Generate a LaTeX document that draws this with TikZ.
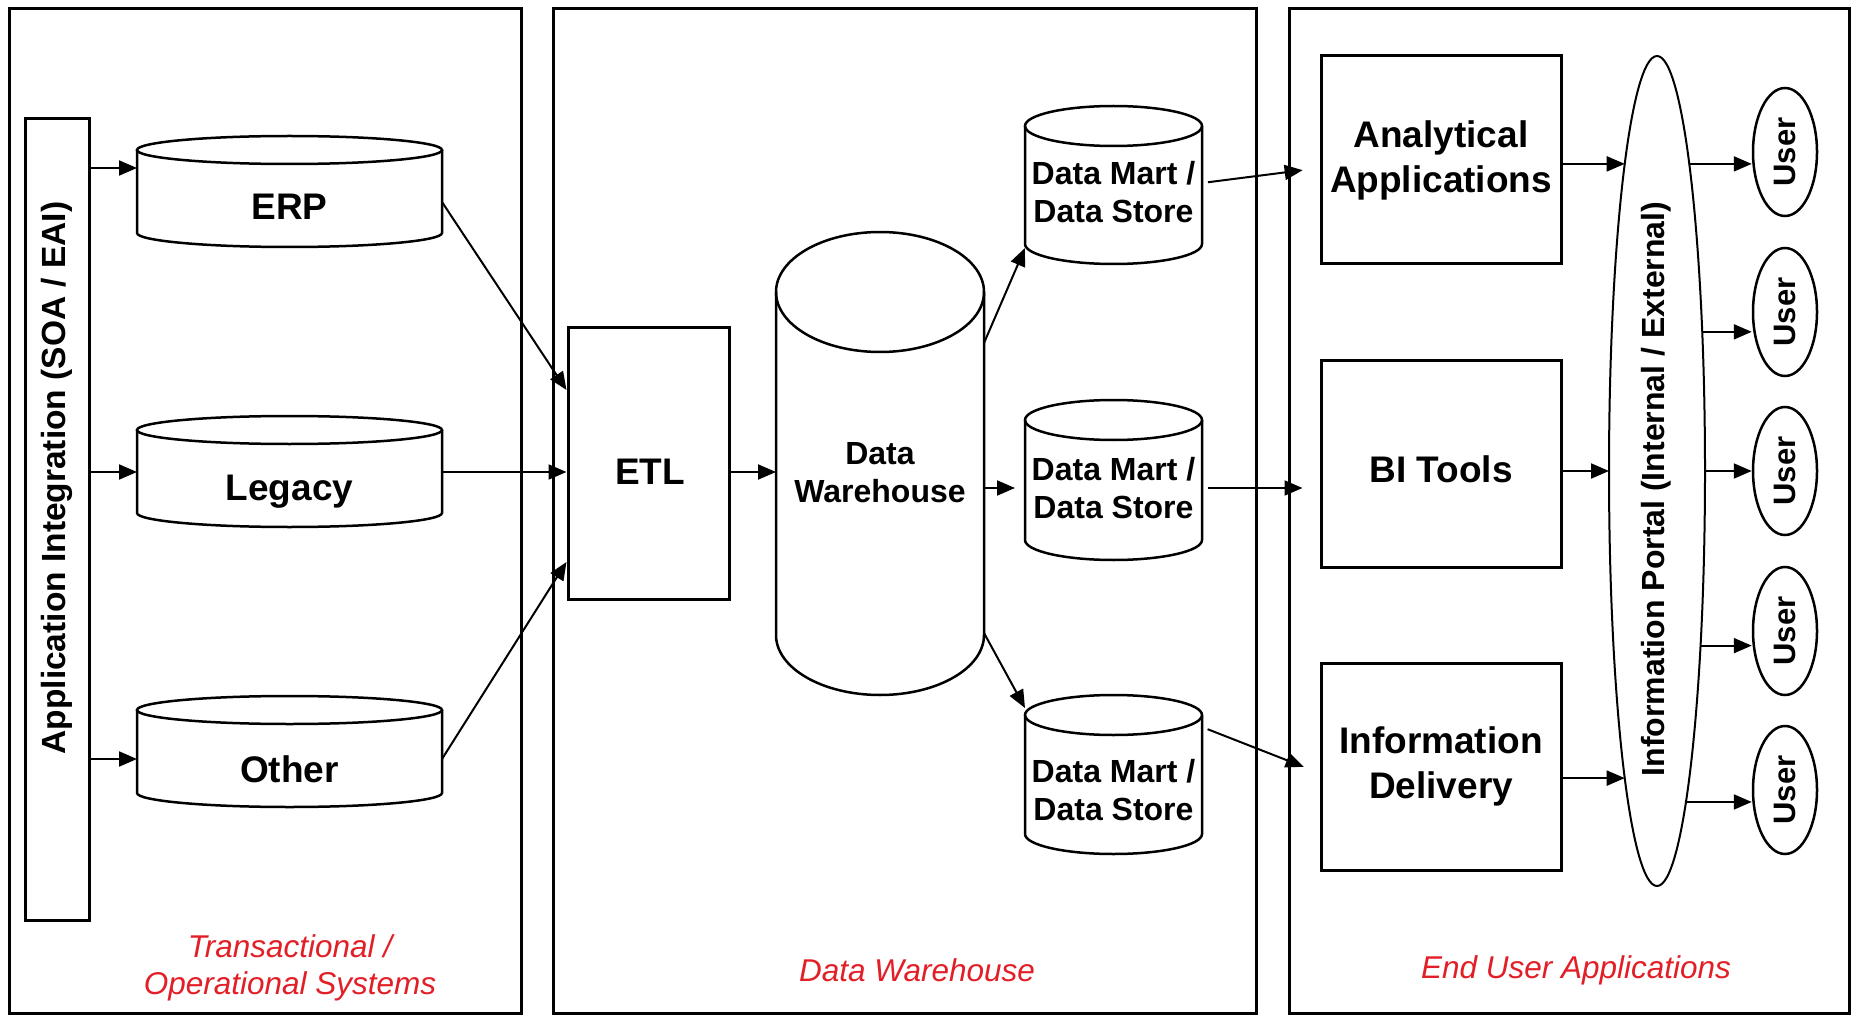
\documentclass[tikz,border=0pt]{standalone}
\usepackage{fontspec}
\setmainfont{Liberation Sans}
\usetikzlibrary{arrows.meta,shapes.geometric}
\definecolor{capred}{RGB}{226,30,38}
% #1 node options, #2 x-left, #3 y-top, #4 x-right, #5 y-bottom, #6 ellipse y-radius, #7 text y, #8 text
\newcommand\Cyl[8]{%
  \pgfmathsetmacro\cylcx{(#2+#4)/2}%
  \pgfmathsetmacro\cylrx{(#4-#2)/2}%
  \draw[cylline] (#2,#3+#6) -- (#2,#5-#6) arc[start angle=180,end angle=0,x radius=\cylrx,y radius=#6] -- (#4,#3+#6);
  \draw[cylline] (\cylcx,#3+#6) ellipse[x radius=\cylrx,y radius=#6];
  \node[#1, minimum width=#4-#2, inner sep=0, outer sep=0] at (\cylcx,#7) {#8};
}
\begin{document}
\begin{tikzpicture}[x=1pt,y=-1pt,
  panel/.style={draw, line width=3pt, rectangle, inner sep=0},
  appbox/.style={draw, line width=3pt, rectangle, inner sep=0, fill=white},
  cylline/.style={line width=2.5pt},
  lbl/.style={font=\bfseries\fontsize{37}{45}\selectfont, align=center, inner sep=0},
  dmlbl/.style={font=\bfseries\fontsize{32}{38}\selectfont, align=center, inner sep=0},
  vlbl/.style={font=\bfseries\fontsize{33.5}{38}\selectfont, inner sep=0},
  plbl/.style={font=\bfseries\fontsize{32}{38}\selectfont, inner sep=0},
  captxt/.style={font=\itshape\fontsize{31.5}{37}\selectfont, text=capred, align=center, inner sep=0},
  arr/.style={line width=2pt, -{Triangle[length=18pt,width=15pt]}},
  userell/.style={ellipse, draw, line width=2.5pt, minimum width=64pt, minimum height=128pt, inner sep=0, font=\bfseries\fontsize{31}{36}\selectfont},
]
\useasboundingbox (0,0) rectangle (1858,1016);
\fill[white] (0,0) rectangle (1858,1016);

% panels
\node[panel, minimum width=512pt, minimum height=1004pt] (p1) at (265,511) {};
\node[panel, minimum width=703pt, minimum height=1004pt] (p2) at (904.5,511) {};
\node[panel, minimum width=560pt, minimum height=1004pt] (p3) at (1569,511) {};

% application integration bar
\node[appbox, minimum width=64pt, minimum height=801pt] (ai) at (57,519.5) {};
\node[vlbl] (ait) at (57,478) {\rotatebox{90}{Application Integration (SOA / EAI)}};

% source systems
\Cyl{name=erp, lbl}{137}{136}{442}{247}{14}{207}{ERP}
\Cyl{name=legacy, lbl}{137}{416}{442}{527}{14}{492}{Legacy}
\Cyl{name=other, lbl}{137}{696}{442}{807}{14}{769}{Other}

% ETL
\node[appbox, minimum width=161pt, minimum height=271pt] (etl) at (648.5,463.5) {};
\node[lbl] (etlt) at (650,472) {ETL};

% data warehouse and marts
\Cyl{name=dw, dmlbl}{776}{232}{984}{695}{60}{473}{Data\\Warehouse}
\Cyl{name=dm1, dmlbl}{1025}{106}{1202}{264}{20}{192}{Data Mart /\\Data Store}
\Cyl{name=dm2, dmlbl}{1025}{400}{1202}{560}{20}{488}{Data Mart /\\Data Store}
\Cyl{name=dm3, dmlbl}{1025}{695}{1202}{854}{20}{790}{Data Mart /\\Data Store}

% end user applications
\node[appbox, lbl, minimum width=240pt, minimum height=208pt] (aa) at (1441,160) {Analytical\\Applications};
\node[appbox, minimum width=240pt, minimum height=207pt] (bi) at (1441,463.5) {};
\node[lbl] (bit) at (1441,469) {BI Tools};
\node[appbox, lbl, minimum width=240pt, minimum height=207pt] (id) at (1441,766.5) {Information\\Delivery};

% portal
\node[ellipse, draw, line width=2pt, minimum width=96pt, minimum height=830pt, inner sep=0, outer sep=0] (portal) at (1657,471) {};
\node[plbl] (portalt) at (1656,489) {\rotatebox{90}{Information Portal (Internal / External)}};

% users
\node[userell] (u1) at (1785,152) {\rotatebox{90}{User}};
\node[userell] (u2) at (1785,312) {\rotatebox{90}{User}};
\node[userell] (u3) at (1785,471) {\rotatebox{90}{User}};
\node[userell] (u4) at (1785,631) {\rotatebox{90}{User}};
\node[userell] (u5) at (1785,790) {\rotatebox{90}{User}};

% captions
\node[captxt] (c1) at (290,967.5) {Transactional /\\Operational Systems};
\node[captxt] (c2) at (917,970) {Data Warehouse};
\node[captxt] (c3) at (1576,970) {End User Applications};

% connectors
\draw[arr] (ai.east |- 0,168) -- (erp.west |- 0,168);
\draw[arr] (ai.east |- 0,472) -- (legacy.west |- 0,472);
\draw[arr] (ai.east |- 0,759) -- (other.west |- 0,759);
\draw[arr] (erp.east |- 0,202) -- (etl.west |- 0,390);
\draw[arr] (legacy.east |- 0,472) -- (etl.west |- 0,472);
\draw[arr] (other.east |- 0,759) -- (etl.west |- 0,562);
\draw[arr] (etl.east |- 0,472) -- (dw.west |- 0,472);
\draw[arr] (dw.east |- 0,343) -- (dm1.west |- 0,248);
\draw[arr, shorten >=10pt] (dw.east |- dm2) -- (dm2.west);
\draw[arr] (dw.east |- 0,633) -- (dm3.west |- 0,708);
\draw[arr, shorten <=6pt, shorten >=17pt] (dm1.east |- 0,183) -- (aa.west |- 0,168);
\draw[arr, shorten <=6pt, shorten >=17pt] (dm2.east) -- (bi.west |- dm2);
\draw[arr, shorten <=6pt, shorten >=17pt] (dm3.east |- 0,727) -- (id.west |- 0,773);
\draw[arr] (portal.96.18 -| aa.east) -- (portal.96.18);
\draw[arr] (bi.east |- portal.west) -- (portal.west);
\draw[arr] (portal.-96.18 -| id.east) -- (portal.-96.18);
\draw[arr] (portal.84.5) -- (portal.84.5 -| u1.west);
\draw[arr] (portal.72.51) -- (portal.72.51 -| u2.west);
\draw[arr] (portal.east) -- (portal.east -| u3.west);
\draw[arr] (portal.-76.13) -- (portal.-76.13 -| u4.west);
\draw[arr] (portal.-85.21) -- (portal.-85.21 -| u5.west);
\end{tikzpicture}
\end{document}
